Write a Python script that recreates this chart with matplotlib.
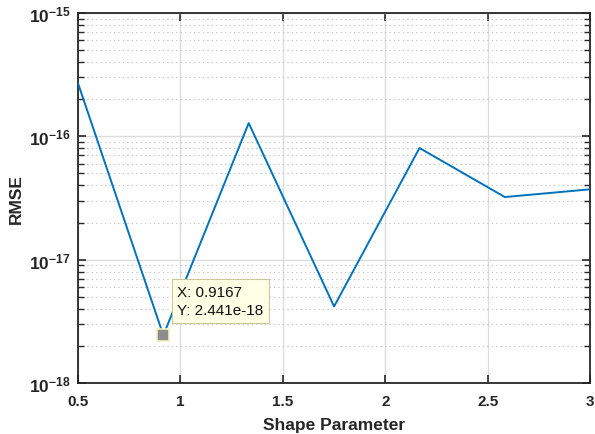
import matplotlib.pyplot as plt
import numpy as np

plt.rcParams['font.family'] = ['Liberation Sans', 'DejaVu Sans']
plt.rcParams['mathtext.fontset'] = 'custom'
plt.rcParams['mathtext.rm'] = 'Liberation Sans'
plt.rcParams['mathtext.bf'] = 'Liberation Sans:bold'

# shape parameter sweep and the RMSE for each value
shape = [0.5, 0.9167, 1.3333, 1.75, 2.1667, 2.5833, 3.0]
rmse = [2.70e-16, 2.441e-18, 1.28e-16, 4.18e-18, 8.04e-17, 3.22e-17, 3.72e-17]

# datatip on the minimum
tip_x = shape[1]
tip_y = rmse[1]

x_ticks = [0.5, 1, 1.5, 2, 2.5, 3]
x_labels = ['0.5', '1', '1.5', '2', '2.5', '3']
y_ticks = [1e-18, 1e-17, 1e-16, 1e-15]
y_labels = [r'$\mathbf{10^{-18}}$', r'$\mathbf{10^{-17}}$',
            r'$\mathbf{10^{-16}}$', r'$\mathbf{10^{-15}}$']

dark = '#262626'

fig = plt.figure(figsize=(5.95, 4.35), dpi=100)
ax = fig.add_axes([0.131, 0.117, 0.861, 0.851])

ax.plot(shape, rmse, color='#0072BD', lw=1.4, zorder=3)
ax.set_yscale('log')
ax.set_xlim(0.5, 3)
ax.set_ylim(1e-18, 1e-15)
ax.set_xticks(x_ticks)
ax.set_xticklabels(x_labels, fontweight='bold', fontsize=11)
ax.set_yticks(y_ticks)
ax.set_yticklabels(y_labels, fontsize=12.5)

ax.grid(True, which='major', color='#dcdcdc', lw=1.0, ls='-')
ax.grid(True, which='minor', axis='y', color='#bdbdbd', lw=0.8, ls=(0, (1, 3)))
ax.set_axisbelow(True)

ax.tick_params(which='both', direction='in', top=True, right=True, colors=dark)
ax.tick_params(which='major', length=6, width=1.2)
ax.tick_params(which='minor', length=4, width=1.0)
ax.tick_params(axis='x', which='minor', bottom=False, top=False)
ax.tick_params(axis='x', pad=8)
ax.tick_params(axis='y', pad=5)
for sp in ax.spines.values():
    sp.set_color(dark)
    sp.set_linewidth(1.3)

ax.set_xlabel('Shape Parameter', fontsize=12.5, fontweight='bold', color=dark,
              labelpad=6)
ax.set_ylabel('RMSE', fontsize=12.5, fontweight='bold', color=dark)

# datatip marker and box
ax.plot([tip_x], [tip_y], marker='s', ms=8.5, mfc='#8c8c8c', mec='#f2f2c0',
        mew=1.2, zorder=5)
ax.annotate('X: %.4f\nY: %.3e' % (tip_x, tip_y), xy=(tip_x, tip_y),
            xytext=(10, 13), textcoords='offset points', fontsize=11,
            color='#111111', linespacing=1.4, va='bottom', ha='left',
            bbox=dict(boxstyle='square,pad=0.35', fc='#ffffe6', ec='#c8c8a0',
                      lw=0.8), zorder=6)

fig.savefig('out.png', dpi=100)
